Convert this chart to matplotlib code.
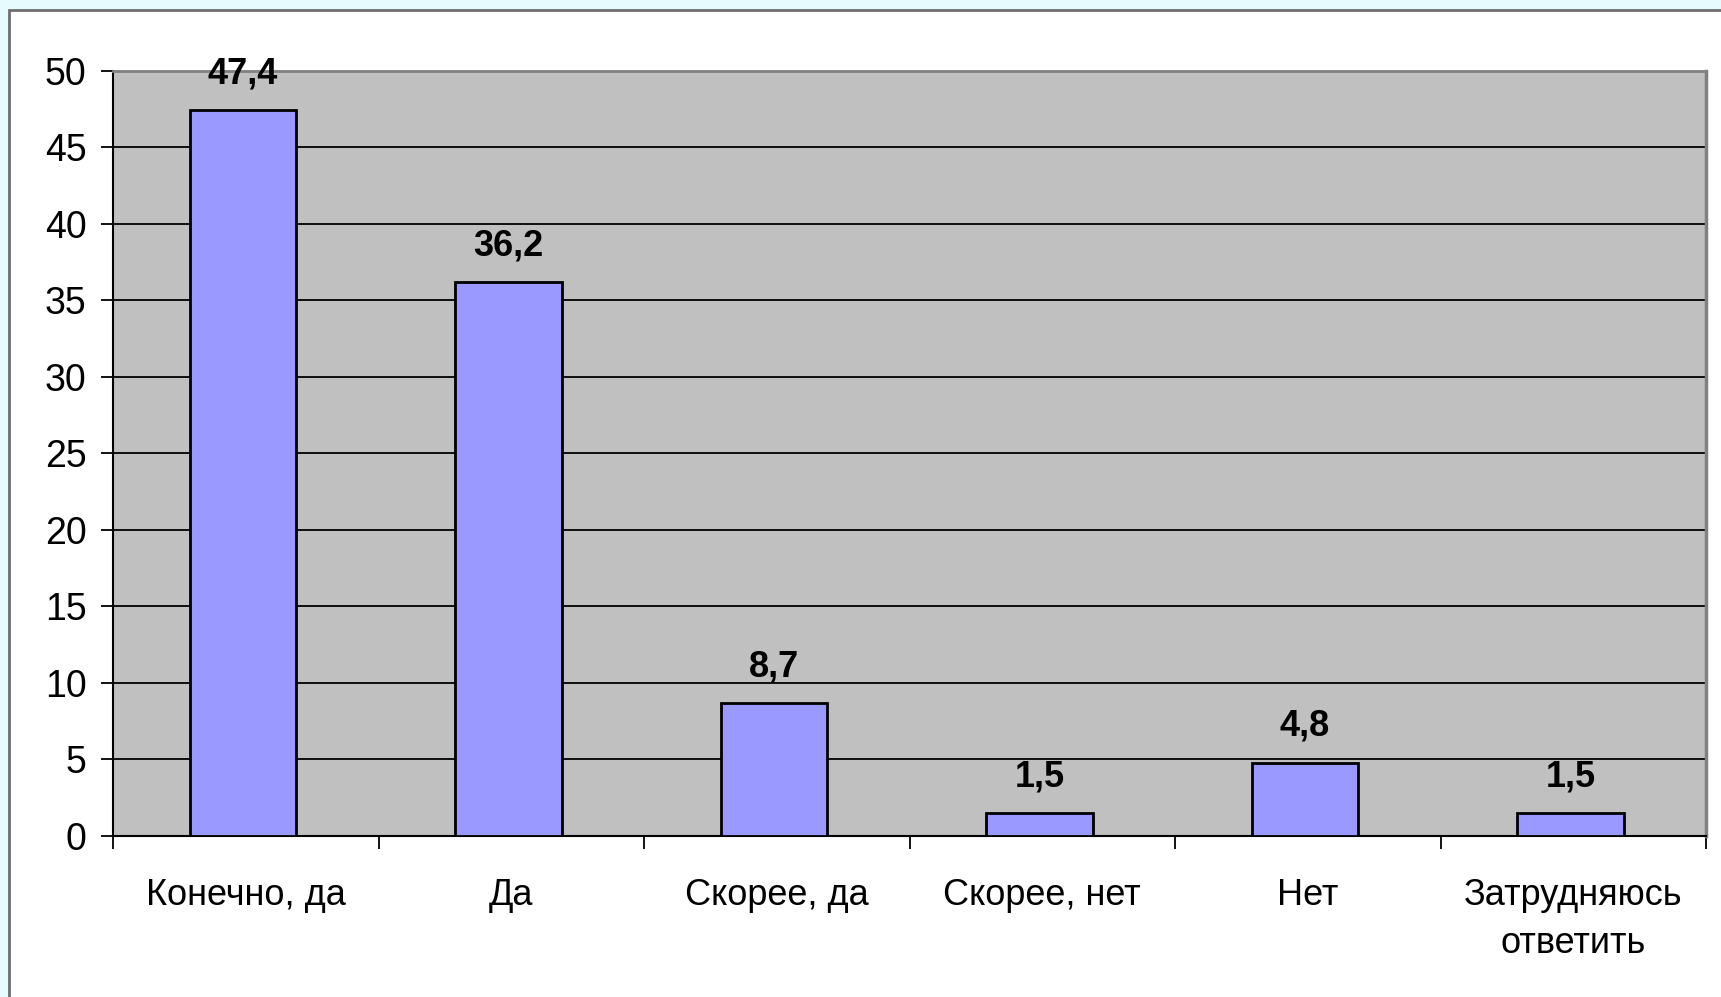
import matplotlib
matplotlib.use('Agg')
import matplotlib.pyplot as plt
from matplotlib.patches import Rectangle
import numpy as np

# данные опроса
categories = ['Конечно, да', 'Да', 'Скорее, да', 'Скорее, нет', 'Нет', 'Затрудняюсь\nответить']
values = [47.4, 36.2, 8.7, 1.5, 4.8, 1.5]
value_labels = ['47,4', '36,2', '8,7', '1,5', '4,8', '1,5']
y_ticks = [0, 5, 10, 15, 20, 25, 30, 35, 40, 45, 50]

plt.rcParams['font.family'] = ['Liberation Sans', 'DejaVu Sans']

W, H = 1721, 997
fig = plt.figure(figsize=(W / 100, H / 100), dpi=100)
fig.patch.set_facecolor('#E6FBFD')

# белая подложка с серой рамкой (как в слайде)
frame = Rectangle((9 / W, -0.1), 1.2, 1 - 10 / H + 0.1, transform=fig.transFigure,
                  facecolor='white', edgecolor='#6E6E6E', linewidth=2, zorder=-10)
fig.patches.append(frame)

ax = fig.add_axes([113 / W, 1 - 836 / H, (1706 - 113) / W, (836 - 70.7) / H])
ax.set_zorder(1)
ax.set_facecolor('#C0C0C0')

x = np.arange(len(categories))
bars = ax.bar(x - 0.01, values, width=0.4, color='#9999FF', edgecolor='black',
              linewidth=2, zorder=3)

for bar, lbl in zip(bars, value_labels):
    ax.annotate(lbl, (bar.get_x() + bar.get_width() / 2, bar.get_height()),
                xytext=(0, 26), textcoords='offset points', ha='center', va='center',
                fontsize=26, fontweight='bold', zorder=4)

ax.set_xlim(-0.5, len(categories) - 0.5)
ax.set_ylim(0, 50)
ax.set_yticks(y_ticks)
ax.set_yticklabels([str(t) for t in y_ticks], fontsize=27)
ax.yaxis.grid(True, color='black', linewidth=1.3, zorder=1)
ax.set_axisbelow(True)

# деления на границах категорий, подписи по центру
ax.set_xticks(np.arange(len(categories) + 1) - 0.5)
ax.set_xticklabels([])
ax.set_xticks(x, minor=True)
ax.set_xticklabels(categories, minor=True, fontsize=26, linespacing=1.47, va='top')
ax.tick_params(axis='x', which='minor', length=0, pad=30.5)
ax.tick_params(axis='x', which='major', length=9, width=1.3, direction='out')
ax.tick_params(axis='y', length=9, width=1.3, direction='out', pad=10)

ax.spines['left'].set_color('black')
ax.spines['bottom'].set_color('black')
ax.spines['left'].set_linewidth(1.5)
ax.spines['bottom'].set_linewidth(1.5)
ax.spines['top'].set_color('#808080')
ax.spines['right'].set_color('#808080')
ax.spines['top'].set_linewidth(2)
ax.spines['right'].set_linewidth(2.5)

fig.savefig('out.png', dpi=100, facecolor=fig.get_facecolor())
